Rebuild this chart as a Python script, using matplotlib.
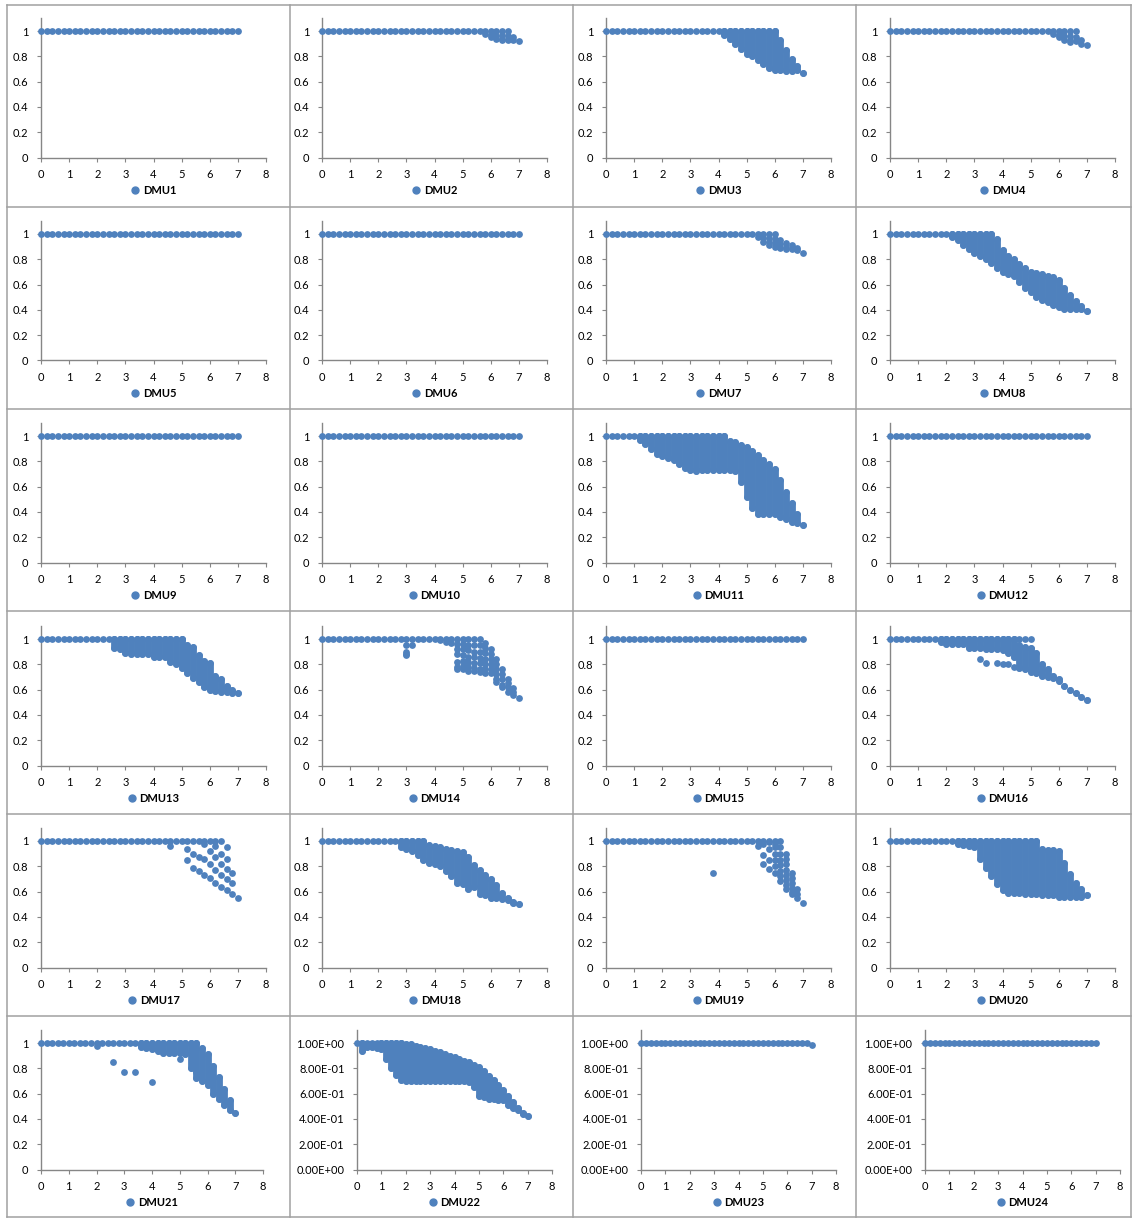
import matplotlib as mpl
import matplotlib.pyplot as plt
from matplotlib.lines import Line2D
from matplotlib.ticker import FuncFormatter

mpl.rcParams.update({
    "font.family": ["Lato", "DejaVu Sans"],
    "font.size": 8,
    "axes.linewidth": 1.0,
    "xtick.major.size": 3,
    "ytick.major.size": 3,
    "xtick.major.pad": 5,
    "ytick.major.pad": 6,
})

W, H = 1133, 1218
BLUE = "#4F81BD"
AXIS_GREY = "#868686"
FRAME_GREY = "#a0a0a0"
DOT_S = 24
BAND_LW = 4.9

# x positions of the runs (same for every DMU)
X_GRID = [0.0, 0.2, 0.4, 0.6, 0.8, 1.0, 1.2, 1.4, 1.6, 1.8, 2.0, 2.2,
          2.4, 2.6, 2.8, 3.0, 3.2, 3.4, 3.6, 3.8, 4.0, 4.2, 4.4, 4.6,
          4.8, 5.0, 5.2, 5.4, 5.6, 5.8, 6.0, 6.2, 6.4, 6.6, 6.8, 7.0]

# last x that still sits on the efficiency = 1 row, DMU1..DMU24
FLAT_END = [7.0, 6.6, 6.0, 6.6, 7.0, 7.0, 6.0, 3.6, 7.0, 7.0, 4.2, 7.0,
            5.0, 5.6, 7.0, 5.0, 6.4, 3.6, 6.2, 5.2, 5.6, 1.8, 6.8, 7.0]

# ---- sparse panels: (x, [y values below the top row]) ----
DMU2_COLS = [(5.8, [0.98]), (6.0, [0.97, 0.95]), (6.2, [0.96, 0.94]),
             (6.4, [0.97, 0.94, 0.93]), (6.6, [0.96, 0.93]),
             (6.8, [0.95, 0.93]), (7.0, [0.92])]
DMU4_COLS = [(5.8, [0.98]), (6.0, [0.97, 0.95]), (6.2, [0.96, 0.93]),
             (6.4, [0.96, 0.93, 0.91]), (6.6, [0.95, 0.92]),
             (6.8, [0.93, 0.90]), (7.0, [0.89])]
DMU7_COLS = [(5.4, [0.98]), (5.6, [0.97, 0.94]), (5.8, [0.97, 0.94, 0.91]),
             (6.0, [0.96, 0.93, 0.90]), (6.2, [0.95, 0.92, 0.89]),
             (6.4, [0.93, 0.90, 0.88]), (6.6, [0.91, 0.88]),
             (6.8, [0.89, 0.87]), (7.0, [0.85])]
DMU14_COLS = [(3.0, [0.95, 0.90, 0.88, 0.87]), (3.2, [0.95]),
              (4.2, [0.99]), (4.4, [0.98]), (4.6, [0.97]),
              (4.8, [0.96, 0.92, 0.88, 0.82, 0.78, 0.76]),
              (5.0, [0.96, 0.92, 0.87, 0.83, 0.79, 0.76]),
              (5.2, [0.95, 0.91, 0.86, 0.82, 0.78, 0.75]),
              (5.4, [0.95, 0.90, 0.86, 0.81, 0.77, 0.75]),
              (5.6, [0.95, 0.90, 0.85, 0.81, 0.76, 0.74]),
              (5.8, [0.97, 0.93, 0.89, 0.84, 0.80, 0.76, 0.73]),
              (6.0, [0.92, 0.88, 0.84, 0.80, 0.76, 0.73]),
              (6.2, [0.84, 0.80, 0.76, 0.72, 0.68, 0.66]),
              (6.4, [0.76, 0.72, 0.68, 0.64, 0.62]),
              (6.6, [0.68, 0.65, 0.62, 0.58]),
              (6.8, [0.61, 0.58, 0.56]), (7.0, [0.53])]
DMU16_COLS = [(3.2, [0.84]), (3.4, [0.81]), (3.8, [0.81]), (4.0, [0.80]),
              (4.2, [0.80]), (4.4, [0.78])]
DMU17_COLS = [(4.6, [0.96]), (5.2, [0.94, 0.85]), (5.4, [0.90, 0.79]),
              (5.6, [0.87, 0.76]), (5.8, [0.98, 0.86, 0.73]),
              (6.0, [0.92, 0.82, 0.71]), (6.2, [0.96, 0.87, 0.77, 0.67]),
              (6.4, [0.90, 0.82, 0.73, 0.64]),
              (6.6, [0.95, 0.86, 0.78, 0.70, 0.61]),
              (6.8, [0.75, 0.67, 0.58]), (7.0, [0.55])]
DMU19_COLS = [(3.8, [0.75]), (5.4, [0.96]), (5.6, [0.98, 0.89, 0.82]),
              (5.8, [0.99, 0.94, 0.85, 0.78]),
              (6.0, [0.98, 0.95, 0.90, 0.85, 0.80, 0.75]),
              (6.2, [0.95, 0.90, 0.85, 0.81, 0.76, 0.72, 0.68]),
              (6.4, [0.90, 0.86, 0.82, 0.77, 0.73, 0.69, 0.65, 0.62]),
              (6.6, [0.75, 0.71, 0.67, 0.63, 0.60, 0.58]),
              (6.8, [0.62, 0.58, 0.55]), (7.0, [0.51])]
DMU21_COLS = [(2.0, [0.98]), (2.6, [0.85]), (3.0, [0.77]), (3.4, [0.77]),
              (4.0, [0.69]), (5.0, [0.87]), (5.6, [0.77])]
DMU23_COLS = [(7.0, [0.985])]

# ---- dense panels: one range per column (x, top, bottom) ----
DMU3_X = [4.2, 4.4, 4.6, 4.8, 5.0, 5.2, 5.4, 5.6, 5.8, 6.0, 6.2, 6.4, 6.6, 6.8, 7.0]
DMU3_TOP = [1, 1, 1, 1, 1, 1, 1, 1, 1, 1, 0.93, 0.85, 0.78, 0.72, 0.67]
DMU3_BOT = [0.97, 0.94, 0.90, 0.86, 0.82, 0.80, 0.77, 0.74, 0.71, 0.69,
            0.69, 0.68, 0.68, 0.69, 0.67]

DMU8_X = [2.2, 2.4, 2.6, 2.8, 3.0, 3.2, 3.4, 3.6, 3.8, 4.0, 4.2, 4.4, 4.6,
          4.8, 5.0, 5.2, 5.4, 5.6, 5.8, 6.0, 6.2, 6.4, 6.6, 6.8, 7.0]
DMU8_TOP = [1, 1, 1, 1, 1, 1, 1, 1, 0.96, 0.87, 0.83, 0.80, 0.76, 0.73,
            0.70, 0.69, 0.68, 0.67, 0.66, 0.64, 0.57, 0.52, 0.47, 0.43, 0.39]
DMU8_BOT = [0.98, 0.95, 0.91, 0.88, 0.85, 0.83, 0.80, 0.77, 0.73, 0.70,
            0.68, 0.67, 0.62, 0.57, 0.54, 0.50, 0.48, 0.46, 0.44, 0.42,
            0.41, 0.41, 0.41, 0.41, 0.39]

DMU11_X = [1.2, 1.4, 1.6, 1.8, 2.0, 2.2, 2.4, 2.6, 2.8, 3.0, 3.2, 3.4, 3.6,
           3.8, 4.0, 4.2, 4.4, 4.6, 4.8, 5.0, 5.2, 5.4, 5.6, 5.8, 6.0, 6.2,
           6.4, 6.6, 6.8, 7.0]
DMU11_TOP = [1, 1, 1, 1, 1, 1, 1, 1, 1, 1, 1, 1, 1, 1, 1, 1, 0.96, 0.95,
             0.93, 0.91, 0.88, 0.85, 0.81, 0.78, 0.74, 0.65, 0.56, 0.47,
             0.38, 0.30]
DMU11_BOT = [0.97, 0.94, 0.90, 0.86, 0.84, 0.83, 0.81, 0.78, 0.75, 0.73,
             0.72, 0.73, 0.73, 0.73, 0.73, 0.73, 0.73, 0.72, 0.64, 0.52,
             0.43, 0.38, 0.38, 0.38, 0.38, 0.36, 0.34, 0.32, 0.31, 0.30]

DMU13_X = [2.6, 2.8, 3.0, 3.2, 3.4, 3.6, 3.8, 4.0, 4.2, 4.4, 4.6, 4.8, 5.0,
           5.2, 5.4, 5.6, 5.8, 6.0, 6.2, 6.4, 6.6, 6.8, 7.0]
DMU13_TOP = [1, 1, 1, 1, 1, 1, 1, 1, 1, 1, 1, 1, 1, 0.95, 0.94, 0.87,
             0.83, 0.81, 0.71, 0.68, 0.63, 0.60, 0.57]
DMU13_BOT = [0.93, 0.92, 0.89, 0.88, 0.88, 0.88, 0.88, 0.86, 0.86, 0.86,
             0.82, 0.80, 0.77, 0.73, 0.69, 0.66, 0.62, 0.60, 0.59, 0.58,
             0.58, 0.57, 0.57]

DMU16_X = [1.8, 2.0, 2.2, 2.4, 2.6, 2.8, 3.0, 3.2, 3.4, 3.6, 3.8, 4.0, 4.2,
           4.4, 4.6, 4.8, 5.0, 5.2, 5.4, 5.6, 5.8, 6.0, 6.2, 6.4, 6.6, 6.8,
           7.0]
DMU16_TOP = [1, 1, 1, 1, 1, 1, 1, 1, 1, 1, 1, 1, 1, 1, 0.95, 0.94, 0.93,
             0.89, 0.80, 0.76, 0.71, 0.68, 0.63, 0.60, 0.57, 0.54, 0.52]
DMU16_BOT = [0.98, 0.96, 0.96, 0.96, 0.96, 0.93, 0.93, 0.93, 0.92, 0.92,
             0.92, 0.91, 0.89, 0.86, 0.77, 0.76, 0.74, 0.73, 0.71, 0.70,
             0.69, 0.67, 0.63, 0.60, 0.57, 0.54, 0.52]

DMU18_X = [2.8, 3.0, 3.2, 3.4, 3.6, 3.8, 4.0, 4.2, 4.4, 4.6, 4.8, 5.0, 5.2,
           5.4, 5.6, 5.8, 6.0, 6.2, 6.4, 6.6, 6.8, 7.0]
DMU18_TOP = [1, 1, 1, 1, 1, 0.97, 0.96, 0.95, 0.94, 0.93, 0.92, 0.91,
             0.87, 0.81, 0.77, 0.73, 0.70, 0.65, 0.59, 0.55, 0.52, 0.50]
DMU18_BOT = [0.95, 0.94, 0.92, 0.89, 0.85, 0.83, 0.82, 0.80, 0.76, 0.72,
             0.67, 0.66, 0.62, 0.64, 0.58, 0.57, 0.55, 0.55, 0.54, 0.53,
             0.51, 0.50]

DMU20_X = [2.4, 2.6, 2.8, 3.0, 3.2, 3.4, 3.6, 3.8, 4.0, 4.2, 4.4, 4.6, 4.8,
           5.0, 5.2, 5.4, 5.6, 5.8, 6.0, 6.2, 6.4, 6.6, 6.8, 7.0]
DMU20_TOP = [1, 1, 1, 1, 1, 1, 1, 1, 1, 1, 1, 1, 1, 1, 1, 0.94, 0.93,
             0.93, 0.92, 0.83, 0.74, 0.67, 0.62, 0.57]
DMU20_BOT = [0.98, 0.97, 0.96, 0.95, 0.86, 0.79, 0.72, 0.66, 0.61, 0.59,
             0.59, 0.59, 0.58, 0.58, 0.58, 0.57, 0.57, 0.57, 0.56, 0.56,
             0.56, 0.56, 0.56, 0.57]

DMU21_X = [3.6, 3.8, 4.0, 4.2, 4.4, 4.6, 4.8, 5.0, 5.2, 5.4, 5.6, 5.8, 6.0,
           6.2, 6.4, 6.6, 6.8, 7.0]
DMU21_TOP = [1, 1, 1, 1, 1, 1, 1, 1, 1, 1, 1, 0.96, 0.91, 0.82, 0.73,
             0.64, 0.55, 0.45]
DMU21_BOT = [0.97, 0.96, 0.95, 0.94, 0.92, 0.92, 0.92, 0.92, 0.91, 0.80,
             0.72, 0.70, 0.67, 0.60, 0.56, 0.51, 0.47, 0.45]

DMU22_X = [0.2, 0.4, 0.6, 0.8, 1.0, 1.2, 1.4, 1.6, 1.8, 2.0, 2.2, 2.4, 2.6,
           2.8, 3.0, 3.2, 3.4, 3.6, 3.8, 4.0, 4.2, 4.4, 4.6, 4.8, 5.0, 5.2,
           5.4, 5.6, 5.8, 6.0, 6.2, 6.4, 6.6, 6.8, 7.0]
DMU22_TOP = [1.0, 0.99, 0.99, 0.99, 1.0, 1.0, 1.0, 1.0, 1.0, 0.99, 0.99,
             0.98, 0.97, 0.96, 0.95, 0.94, 0.93, 0.91, 0.90, 0.89, 0.87,
             0.86, 0.85, 0.83, 0.81, 0.78, 0.74, 0.71, 0.67, 0.63, 0.58,
             0.53, 0.49, 0.45, 0.42]
DMU22_BOT = [0.94, 0.97, 0.97, 0.96, 0.95, 0.87, 0.80, 0.75, 0.71, 0.70,
             0.70, 0.70, 0.70, 0.70, 0.70, 0.70, 0.70, 0.70, 0.70, 0.70,
             0.70, 0.70, 0.69, 0.65, 0.58, 0.57, 0.56, 0.56, 0.55, 0.55,
             0.51, 0.49, 0.47, 0.44, 0.42]

POINTS = {2: DMU2_COLS, 4: DMU4_COLS, 7: DMU7_COLS, 14: DMU14_COLS,
          16: DMU16_COLS, 17: DMU17_COLS, 19: DMU19_COLS, 21: DMU21_COLS,
          23: DMU23_COLS}
BANDS = {3: (DMU3_X, DMU3_TOP, DMU3_BOT), 8: (DMU8_X, DMU8_TOP, DMU8_BOT),
         11: (DMU11_X, DMU11_TOP, DMU11_BOT),
         13: (DMU13_X, DMU13_TOP, DMU13_BOT),
         16: (DMU16_X, DMU16_TOP, DMU16_BOT),
         18: (DMU18_X, DMU18_TOP, DMU18_BOT),
         20: (DMU20_X, DMU20_TOP, DMU20_BOT),
         21: (DMU21_X, DMU21_TOP, DMU21_BOT),
         22: (DMU22_X, DMU22_TOP, DMU22_BOT)}

# ===== layout (pixels) =====
X_EDGES = [7, 290, 573, 856, 1131]
Y_EDGES = [5, 207, 409, 611, 814, 1016, 1217]
Y_ONE = [31, 234, 436, 639, 841, 1043]      # pixel row of y = 1
Y_UNIT = 126.5                              # pixels per 1.0
X_LEFT = [41, 322, 606, 890]
X_LEFT_LAST = [41, 357, 641, 925]
X_WIDTH = [225, 225, 225, 225]
X_WIDTH_LAST = [222, 195, 195, 195]

fig = plt.figure(figsize=(W / 100, H / 100), dpi=100)

# frames around every chart
bg = fig.add_axes([0, 0, 1, 1])
bg.set_xlim(0, W)
bg.set_ylim(H, 0)
bg.axis("off")
for xe in X_EDGES:
    bg.plot([xe, xe], [Y_EDGES[0], Y_EDGES[-1]], color=FRAME_GREY, lw=1.1)
for ye in Y_EDGES:
    bg.plot([X_EDGES[0], X_EDGES[-1]], [ye, ye], color=FRAME_GREY, lw=1.1)

general = FuncFormatter(lambda v, p: f"{v:g}")
sci = FuncFormatter(lambda v, p: f"{v:.2E}")

for k in range(24):
    dmu = k + 1
    r, c = divmod(k, 4)
    left = X_LEFT_LAST[c] if r == 5 else X_LEFT[c]
    width = X_WIDTH_LAST[c] if r == 5 else X_WIDTH[c]
    y_zero = Y_ONE[r] + Y_UNIT
    height = 1.1 * Y_UNIT
    ax = fig.add_axes([left / W, 1 - y_zero / H, width / W, height / H])

    # top row at efficiency 1
    fx = [x for x in X_GRID if x <= FLAT_END[k] + 1e-9]
    ax.scatter(fx, [1.0] * len(fx), s=DOT_S, color=BLUE, lw=0, clip_on=False, zorder=3)

    if dmu in BANDS:
        bx, btop, bbot = BANDS[dmu]
        ax.vlines(bx, bbot, btop, colors=BLUE, linewidth=BAND_LW,
                  capstyle="round", zorder=3)
        ax.scatter(bx, btop, s=DOT_S, color=BLUE, lw=0, zorder=3)
        ax.scatter(bx, bbot, s=DOT_S, color=BLUE, lw=0, zorder=3)
    if dmu in POINTS:
        px = [x for x, ys in POINTS[dmu] for _ in ys]
        py = [y for _, ys in POINTS[dmu] for y in ys]
        ax.scatter(px, py, s=DOT_S, color=BLUE, lw=0, zorder=3)

    ax.set_xlim(0, 8)
    ax.set_ylim(0, 1.1)
    ax.set_xticks(range(9))
    ax.set_yticks([0, 0.2, 0.4, 0.6, 0.8, 1.0])
    ax.yaxis.set_major_formatter(sci if dmu >= 22 else general)
    ax.tick_params(direction="out", color=AXIS_GREY, labelsize=8)
    for side in ("top", "right"):
        ax.spines[side].set_visible(False)
    for side in ("left", "bottom"):
        ax.spines[side].set_color(AXIS_GREY)
    ax.patch.set_alpha(0)

    handle = Line2D([], [], marker="o", ls="", color=BLUE, ms=5)
    ax.legend([handle], [f"DMU{dmu}"], loc="center", bbox_to_anchor=(0.5, -0.235),
              frameon=False, handlelength=0.8, handletextpad=0.3, borderpad=0,
              prop={"weight": "bold", "size": 8})

fig.savefig("out.png", dpi=100)
